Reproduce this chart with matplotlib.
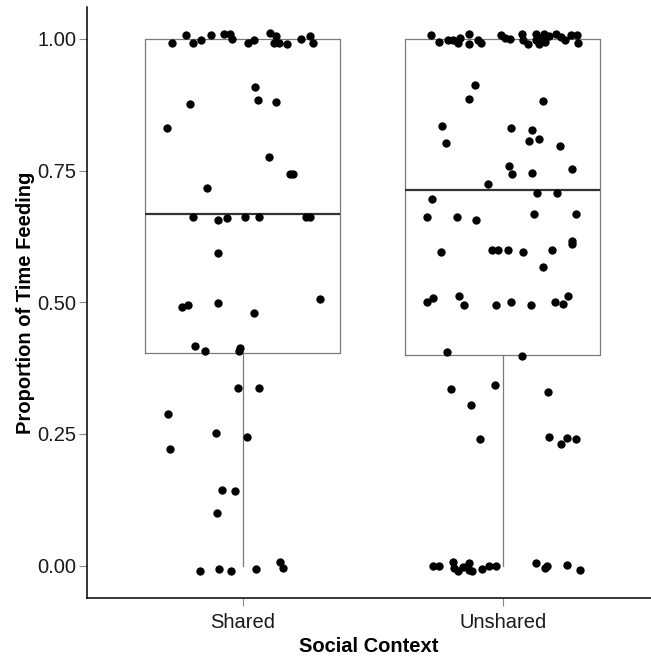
import matplotlib.pyplot as plt
import numpy as np

plt.rcParams['font.family'] = ['Liberation Sans', 'DejaVu Sans']

# === DATA ===
categories = ['Shared', 'Unshared']

# box summary (q1, median, q3, whisker low, whisker high)
box_q1 = [0.403, 0.400]
box_median = [0.668, 0.714]
box_q3 = [1.0, 1.0]
box_whislo = [0.0, 0.0]
box_whishi = [1.0, 1.0]

# jittered observations: horizontal offset from the category centre, value
shared_offset = [-0.272, -0.219, -0.193, -0.162, -0.124, -0.074, -0.049, -0.042, 0.018, 0.043,
                 0.105, 0.127, 0.120, 0.138, 0.168, 0.224, 0.258, 0.270,
                 0.047, -0.204, 0.058, 0.128, -0.292, 0.100, 0.180, 0.191, -0.138,
                 -0.193, -0.095, -0.060, 0.007, 0.062, 0.241, 0.258, -0.095,
                 -0.233, -0.210, -0.095, 0.042, 0.296,
                 -0.185, -0.146, -0.010, -0.014, -0.019, 0.062, -0.288, -0.104, 0.014, -0.280,
                 -0.082, -0.032, -0.099, -0.165, -0.091, -0.047, 0.051, 0.142, 0.153]
shared_value = [0.992, 1.008, 0.992, 0.997, 1.007, 1.009, 1.009, 0.999, 0.992, 0.997,
                1.012, 1.006, 0.992, 0.992, 0.990, 0.999, 1.006, 0.992,
                0.908, 0.877, 0.883, 0.880, 0.831, 0.775, 0.744, 0.744, 0.716,
                0.662, 0.657, 0.660, 0.662, 0.662, 0.662, 0.662, 0.594,
                0.491, 0.494, 0.498, 0.479, 0.507,
                0.416, 0.407, 0.413, 0.407, 0.338, 0.338, 0.287, 0.252, 0.245, 0.222,
                0.144, 0.141, 0.099, -0.011, -0.006, -0.011, -0.006, 0.006, -0.004]

unshared_offset = [-0.278, -0.246, -0.210, -0.191, -0.174, -0.165, -0.132, -0.132, -0.097, -0.086,
                   -0.008, 0.008, 0.027, 0.072, 0.076, 0.097, 0.126, 0.126, 0.140, 0.149,
                   0.159, 0.162, 0.178, 0.204, 0.222, 0.241, 0.264, 0.286, 0.290,
                   -0.108, -0.130, 0.153, -0.233, 0.030, 0.112, -0.219, 0.100, 0.138, 0.219,
                   0.022, 0.035, 0.112, 0.267, -0.058, 0.133, 0.207, -0.272,
                   -0.290, -0.177, -0.104, 0.119, 0.282, 0.267, 0.267,
                   -0.238, -0.042, -0.018, 0.018, 0.076, 0.191, 0.153,
                   -0.290, -0.268, -0.167, -0.150, -0.028, 0.030, 0.107, 0.199, 0.232, 0.249,
                   -0.213, 0.073, -0.200, -0.032, 0.172, -0.124, -0.087, 0.177, 0.223, 0.247, 0.282,
                   -0.268, -0.245, -0.193, -0.187, -0.174, -0.153, -0.131, -0.131, -0.117, -0.080,
                   -0.053, -0.028, 0.127, 0.163, 0.168, 0.245, 0.296]
unshared_value = [1.007, 0.995, 0.997, 0.997, 0.992, 1.001, 1.009, 0.990, 0.998, 0.993,
                  1.007, 1.001, 0.999, 1.009, 0.997, 0.990, 1.009, 0.998, 0.990, 1.001,
                  1.009, 0.995, 1.006, 1.009, 1.004, 0.997, 1.008, 1.008, 0.992,
                  0.913, 0.886, 0.882, 0.834, 0.831, 0.827, 0.803, 0.807, 0.810, 0.796,
                  0.758, 0.744, 0.746, 0.753, 0.724, 0.707, 0.707, 0.696,
                  0.662, 0.662, 0.657, 0.667, 0.667, 0.617, 0.610,
                  0.596, 0.600, 0.600, 0.600, 0.596, 0.600, 0.566,
                  0.500, 0.508, 0.511, 0.495, 0.494, 0.500, 0.494, 0.500, 0.497, 0.511,
                  0.405, 0.397, 0.336, 0.343, 0.329, 0.304, 0.240, 0.245, 0.231, 0.243, 0.240,
                  -0.001, 0.000, 0.006, -0.004, -0.011, -0.002, 0.004, -0.008, -0.011, -0.006,
                  -0.001, -0.001, 0.004, -0.004, -0.001, 0.001, -0.008]

yticks = [0.0, 0.25, 0.5, 0.75, 1.0]

# === FIGURE ===
fig = plt.figure(figsize=(6.51, 6.60), dpi=100)
ax = fig.add_axes([87 / 651, 1 - 598 / 660, 1 - 87 / 651, (598 - 7) / 660])

positions = np.arange(1, len(categories) + 1)
stats = []
for i, cat in enumerate(categories):
    stats.append({'label': cat, 'q1': box_q1[i], 'med': box_median[i], 'q3': box_q3[i],
                  'whislo': box_whislo[i], 'whishi': box_whishi[i], 'fliers': []})

ax.bxp(stats, positions=positions, widths=0.75, showcaps=False, showfliers=False,
       boxprops=dict(color='#7a7a7a', linewidth=0.9),
       whiskerprops=dict(color='#7a7a7a', linewidth=0.9),
       medianprops=dict(color='#333333', linewidth=1.6),
       zorder=1)

# jittered points
ax.scatter(positions[0] + np.array(shared_offset), shared_value, s=36, color='black',
           linewidths=0, zorder=3)
ax.scatter(positions[1] + np.array(unshared_offset), unshared_value, s=36, color='black',
           linewidths=0, zorder=3)

# === STYLE ===
ax.set_xlim(0.4, 2.57)
ax.set_ylim(-0.0615, 1.0605)
ax.set_xticks(positions)
ax.set_xticklabels(categories)
ax.set_yticks(yticks)
ax.set_yticklabels([f'{v:.2f}' for v in yticks])

for side in ['top', 'right']:
    ax.spines[side].set_visible(False)
for side in ['left', 'bottom']:
    ax.spines[side].set_color('black')
    ax.spines[side].set_linewidth(1.1)

ax.tick_params(axis='both', length=5.5, width=0.8, color='#8a8a8a',
               labelsize=14.5, labelcolor='#1a1a1a', pad=2)
ax.tick_params(axis='x', pad=5)

ax.set_xlabel('Social Context', fontsize=14.5, fontweight='bold', labelpad=4)
ax.set_ylabel('Proportion of Time Feeding', fontsize=14.5, fontweight='bold', labelpad=2)

plt.savefig('out.png', dpi=100)
